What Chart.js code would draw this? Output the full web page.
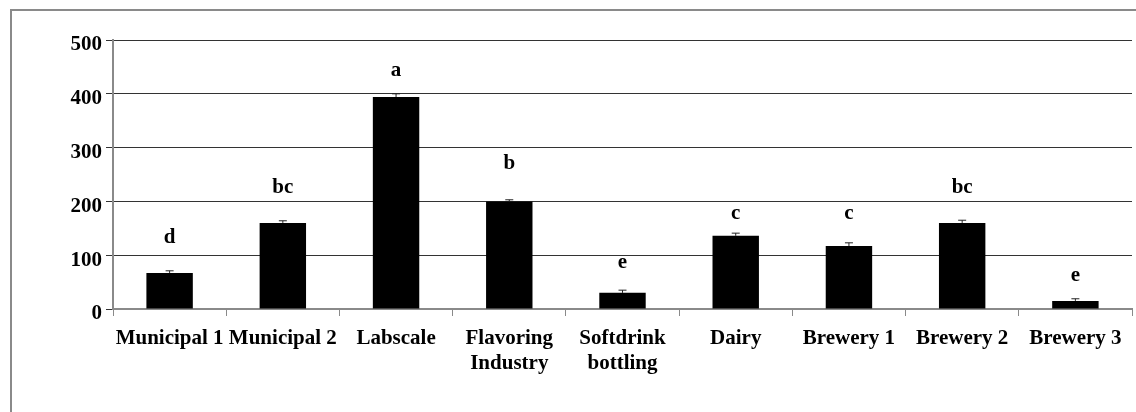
<!DOCTYPE html>
<html>
<head>
<meta charset="utf-8">
<script src="https://cdn.jsdelivr.net/npm/chart.js@4/dist/chart.umd.min.js"></script>
<style>
  html, body { margin: 0; padding: 0; background: #fff; overflow: hidden; }
  #wrap { position: relative; width: 1136px; height: 412px; }
  #frame { position: absolute; left: 10px; top: 9px; width: 1200px; height: 500px; border: 2px solid #8a8a8a; box-sizing: border-box; }
  canvas { position: absolute; left: 0; top: 0; }
</style>
</head>
<body>
<div id="wrap">
  <div id="frame"></div>
  <canvas id="c" width="1136" height="412"></canvas>
</div>
<script>
// categories (two-line labels as arrays)
const sites = ["Municipal 1", "Municipal 2", "Labscale", ["Flavoring", "Industry"], ["Softdrink", "bottling"], "Dairy", "Brewery 1", "Brewery 2", "Brewery 3"];
const means = [67, 160, 394, 200, 30, 136, 117, 160, 15];
const errUp = [4, 4, 6, 3, 5, 5, 6, 5, 4];       // upper error only
const letters = ["d", "bc", "a", "b", "e", "c", "c", "bc", "e"];
const letterAt = [132, 225, 444, 270, 87, 177, 177, 225, 63]; // y value where letter sits
const yTicks = [0, 100, 200, 300, 400, 500];

const FONT = "'Liberation Serif', 'Times New Roman', serif";

// upper error bars + significance letters
const extras = {
  id: "extras",
  afterDatasetsDraw(chart) {
    const ctx = chart.ctx;
    const x = chart.scales.x, y = chart.scales.y;
    ctx.save();
    ctx.strokeStyle = "#222";
    ctx.lineWidth = 1;
    means.forEach((m, i) => {
      const cx = x.getPixelForValue(i);
      const y0 = y.getPixelForValue(m);
      const y1 = y.getPixelForValue(m + errUp[i]);
      ctx.beginPath();
      ctx.moveTo(cx, y0);
      ctx.lineTo(cx, y1);
      ctx.moveTo(cx - 4, y1);
      ctx.lineTo(cx + 4, y1);
      ctx.stroke();
    });
    ctx.fillStyle = "#000";
    ctx.font = "bold 21px " + FONT;
    ctx.textAlign = "center";
    ctx.textBaseline = "middle";
    letters.forEach((l, i) => {
      ctx.fillText(l, x.getPixelForValue(i), y.getPixelForValue(letterAt[i]));
    });
    ctx.restore();
  }
};

new Chart(document.getElementById("c"), {
  type: "bar",
  data: {
    labels: sites,
    datasets: [{
      data: means,
      backgroundColor: "#000",
      borderWidth: 0,
      barPercentage: 0.41,
      categoryPercentage: 1
    }]
  },
  options: {
    responsive: false,
    animation: false,
    layout: { padding: { left: 0, right: 4, top: 40, bottom: 0 } },
    plugins: { legend: { display: false }, tooltip: { enabled: false } },
    scales: {
      x: {
        offset: true,
        grid: { offset: true, drawOnChartArea: false, drawTicks: true, tickLength: 7, color: "#8a8a8a" },
        border: { color: "#8a8a8a", width: 2 },
        ticks: { color: "#000", font: { family: FONT, size: 21, weight: "bold" }, padding: 10, maxRotation: 0, autoSkip: false },
        afterFit(s) { s.height = 103; }
      },
      y: {
        min: 0, max: 500,
        afterBuildTicks(s) { s.ticks = yTicks.map(v => ({ value: v })); },
        grid: { color: "#333", lineWidth: 1, tickLength: 7 },
        border: { color: "#8a8a8a", width: 2 },
        ticks: { color: "#000", font: { family: FONT, size: 21, weight: "bold" }, padding: 4, labelOffset: 5 },
        afterFit(s) { s.width = 113; }
      }
    }
  },
  plugins: [extras]
});
</script>
</body>
</html>
